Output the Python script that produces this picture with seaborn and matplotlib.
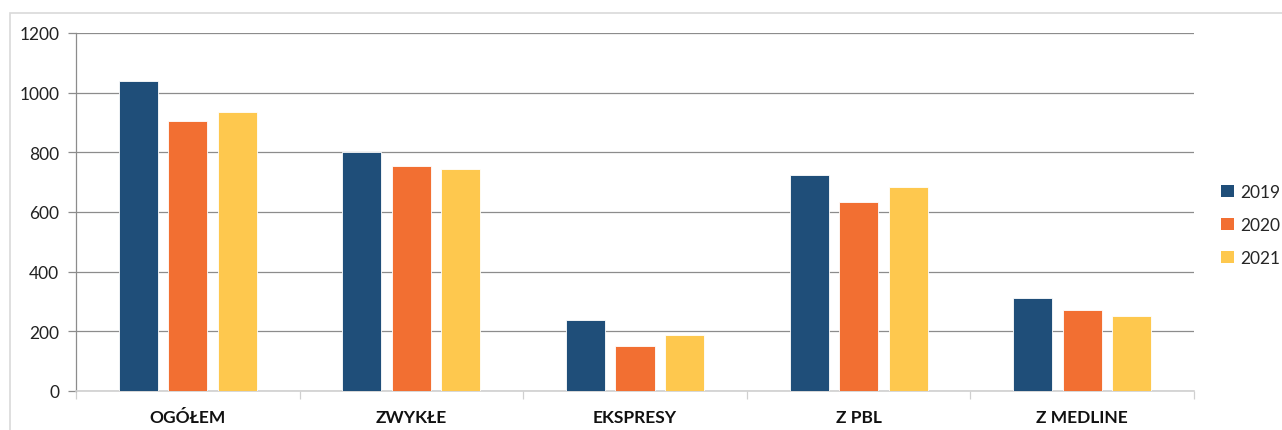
import matplotlib
matplotlib.use("Agg")
import matplotlib.pyplot as plt
from matplotlib.patches import Rectangle, Patch
import seaborn as sns
import pandas as pd

categories = ["OGÓŁEM", "ZWYKŁE", "EKSPRESY", "Z PBL", "Z MEDLINE"]
years = ["2019", "2020", "2021"]
values_2019 = [1038, 800, 238, 725, 311]
values_2020 = [905, 755, 151, 634, 272]
values_2021 = [934, 744, 189, 683, 251]
y_ticks = [0, 200, 400, 600, 800, 1000, 1200]

colors = ["#1F4E79", "#F26F32", "#FEC84E"]

df = pd.DataFrame({
    "kategoria": categories * 3,
    "rok": [y for y in years for _ in categories],
    "wartosc": values_2019 + values_2020 + values_2021,
})

sns.set_theme(style="white")
plt.rcParams["font.family"] = ["Lato", "DejaVu Sans"]

fig = plt.figure(figsize=(12.82, 4.31), dpi=100)
ax = fig.add_axes([76 / 1282, 1 - 392 / 431, (1194 - 76) / 1282, (392 - 34) / 431])

sns.barplot(data=df, x="kategoria", y="wartosc", hue="rok", order=categories,
            hue_order=years, palette=colors, saturation=1, width=0.664, gap=0.21,
            edgecolor="white", linewidth=0.6, ax=ax, legend=False, zorder=3)

ax.set_ylim(0, 1200)
ax.set_xlim(-0.5, len(categories) - 0.5)
ax.set_yticks(y_ticks)
ax.set_yticklabels([str(t) for t in y_ticks], fontsize=12.5, color="#222222")
ax.yaxis.grid(True, color="#8c8c8c", linewidth=0.9, zorder=0)
ax.set_axisbelow(True)
ax.set_xlabel("")
ax.set_ylabel("")

ax.set_xticks(range(len(categories)))
ax.set_xticklabels(categories, fontsize=12.5, fontweight="bold", color="#111111")
ax.tick_params(axis="x", length=0, pad=13)
ax.tick_params(axis="y", length=6, width=0.9, color="#8c8c8c", left=True, pad=6)

# separators between category groups along the x axis
ax.set_xticks([i + 0.5 for i in range(-1, len(categories))], minor=True)
ax.tick_params(axis="x", which="minor", length=6, width=0.9, color="#d0d0d0", bottom=True)

for side in ["top", "right"]:
    ax.spines[side].set_visible(False)
ax.spines["left"].set_color("#8c8c8c")
ax.spines["left"].set_linewidth(0.9)
ax.spines["bottom"].set_color("#d0d0d0")
ax.spines["bottom"].set_linewidth(1.2)

handles = [Patch(facecolor=c, edgecolor="none") for c in colors]
fig.legend(handles, years, loc="center left", bbox_to_anchor=(1221 / 1282, 1 - 226 / 431),
           frameon=False, fontsize=12.5, handlelength=0.75, handleheight=0.75,
           handletextpad=0.35, labelspacing=0.98, borderpad=0, borderaxespad=0)

# thin frame around the chart area
fig.patches.append(Rectangle((10 / 1282, -0.1), 1.2, 1 - 14 / 431 + 0.1,
                             transform=fig.transFigure, fill=False,
                             edgecolor="#d9d9d9", linewidth=1.2))

fig.savefig("out.png", dpi=100)
